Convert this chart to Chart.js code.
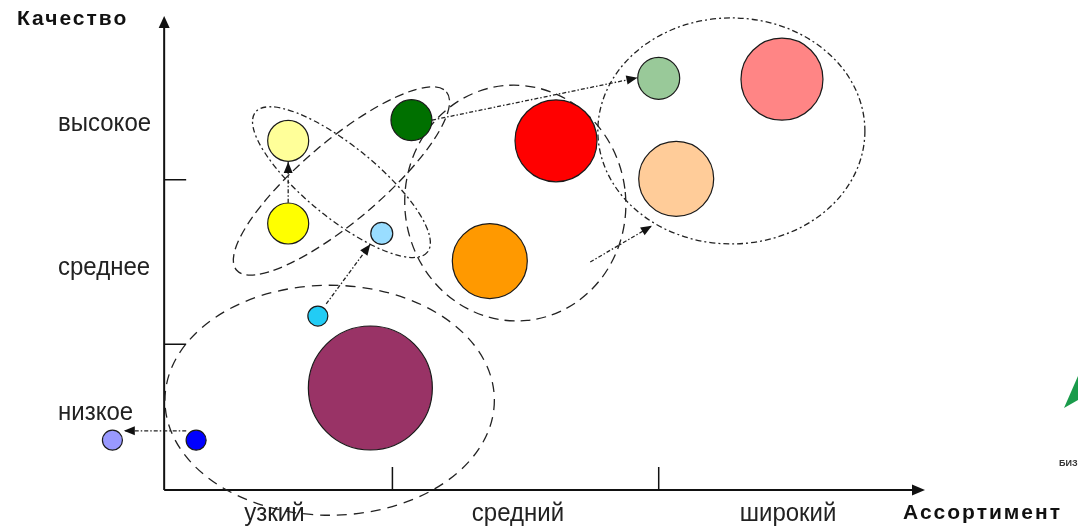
<!DOCTYPE html>
<html>
<head>
<meta charset="utf-8">
<script src="https://cdn.jsdelivr.net/npm/chart.js@4/dist/chart.umd.min.js"></script>
<style>
  html, body { margin: 0; background: #fff; }
  canvas { display: block; }
</style>
</head>
<body>
<canvas id="chart" width="1078" height="527"></canvas>
<script>
// axis categories
const assortmentLabels = ["узкий", "средний", "широкий"];
const assortmentLabelPos = [1.45, 4.65, 8.2];
const assortmentBounds = [3, 6.5];
const qualityLabels = ["низкое", "среднее", "высокое"];
const qualityLabelPos = [1.64, 4.72, 7.79];
const qualityBounds = [3.1, 6.6];

// bubbles (assortment, quality, radius)
const bubbleX = [1.63, 1.63, 3.25, 2.86, 2.02, 5.15, 4.28, 6.50, 8.12, 6.73, 2.71, 0.42, -0.68];
const bubbleY = [7.43, 5.67, 7.87, 5.46, 3.70, 7.43, 4.87, 8.76, 8.74, 6.62, 2.17, 1.06, 1.06];
const bubbleR = [20.5, 20.5, 20.5, 11, 10, 41, 37.5, 21, 41, 37.5, 62, 10, 10];
const bubbleColors = ["#FFFF99", "#FFFF00", "#007000", "#99DDFF", "#22CCF5", "#FF0000", "#FF9900",
  "#99C999", "#FF8585", "#FFCC99", "#993366", "#0000FF", "#9999FF"];

// dashed groups: ends of the long axis, in data units
const groupFrom = [[1.20, 8.04], [0.95, 4.68], [0.01, 1.91], [3.17, 5.87], [5.70, 7.64]];
const groupTo = [[3.46, 5.06], [3.71, 8.47], [4.34, 1.91], [6.06, 6.34], [9.21, 7.64]];

// movement arrows
const arrowFrom = [[0.29, 1.26], [2.13, 3.96], [1.63, 6.11], [3.52, 7.87], [5.60, 4.85]];
const arrowTo = [[-0.53, 1.26], [2.71, 5.23], [1.63, 6.98], [6.22, 8.77], [6.41, 5.62]];

const groupHalf = [36, 40, 115, 118, 113];
const groupDash = [[6, 3, 2, 3], [9, 5], [10, 7], [10, 6], [6, 3, 2, 3]];

const points = bubbleX.map((x, i) => ({ x: x, y: bubbleY[i], r: bubbleR[i] }));

function arrowHead(ctx, x1, y1, x2, y2, len, w) {
  const a = Math.atan2(y2 - y1, x2 - x1);
  ctx.save();
  ctx.translate(x2, y2);
  ctx.rotate(a);
  ctx.beginPath();
  ctx.moveTo(0, 0);
  ctx.lineTo(-len, -w / 2);
  ctx.lineTo(-len, w / 2);
  ctx.closePath();
  ctx.fill();
  ctx.restore();
}

// text a bit taller than the font draws it
function tallText(ctx, t, x, y, k) {
  ctx.save();
  ctx.translate(x, y);
  ctx.scale(1, k);
  ctx.fillText(t, 0, 0);
  ctx.restore();
}

const drawing = {
  id: "drawing",
  beforeDatasetsDraw(chart) {
    const ctx = chart.ctx;
    const xs = chart.scales.x, ys = chart.scales.y;
    const L = xs.getPixelForValue(0), B = ys.getPixelForValue(0);
    const R = xs.getPixelForValue(10), T = ys.getPixelForValue(10);
    ctx.save();
    ctx.strokeStyle = "#111";
    ctx.fillStyle = "#111";

    // axes
    ctx.lineWidth = 2;
    ctx.beginPath();
    ctx.moveTo(L, B); ctx.lineTo(L, T + 8);
    ctx.moveTo(L, B); ctx.lineTo(R - 12, B);
    ctx.stroke();
    arrowHead(ctx, L, B, L, T - 4, 12, 11);
    arrowHead(ctx, L, B, R, B, 13, 11);

    ctx.lineWidth = 1.5;
    ctx.beginPath();
    assortmentBounds.forEach(v => {
      const px = xs.getPixelForValue(v);
      ctx.moveTo(px, B); ctx.lineTo(px, B - 23);
    });
    qualityBounds.forEach(v => {
      const py = ys.getPixelForValue(v);
      ctx.moveTo(L, py); ctx.lineTo(L + 22, py);
    });
    ctx.stroke();

    // labels
    ctx.fillStyle = "#222";
    ctx.font = "24px 'Liberation Sans', Arial, sans-serif";
    ctx.textBaseline = "middle";
    ctx.textAlign = "left";
    qualityLabels.forEach((t, i) => tallText(ctx, t, 58, ys.getPixelForValue(qualityLabelPos[i]), 1.1));
    ctx.textAlign = "center";
    assortmentLabels.forEach((t, i) => tallText(ctx, t, xs.getPixelForValue(assortmentLabelPos[i]), 514, 1.1));

    ctx.fillStyle = "#111";
    ctx.font = "bold 21px 'Liberation Sans', Arial, sans-serif";
    ctx.textAlign = "left";
    ctx.letterSpacing = "2px";
    ctx.fillText("Качество", 17, 19);
    ctx.fillText("Ассортимент", 903, 513);
    ctx.letterSpacing = "0px";

    // groups
    ctx.lineWidth = 1.3;
    ctx.strokeStyle = "#222";
    groupFrom.forEach((f, i) => {
      const x1 = xs.getPixelForValue(f[0]), y1 = ys.getPixelForValue(f[1]);
      const x2 = xs.getPixelForValue(groupTo[i][0]), y2 = ys.getPixelForValue(groupTo[i][1]);
      const cx = (x1 + x2) / 2, cy = (y1 + y2) / 2;
      const a = Math.hypot(x2 - x1, y2 - y1) / 2;
      ctx.setLineDash(groupDash[i]);
      ctx.beginPath();
      ctx.ellipse(cx, cy, a, groupHalf[i], Math.atan2(y2 - y1, x2 - x1), 0, Math.PI * 2);
      ctx.stroke();
    });

    // arrows
    ctx.setLineDash([4, 2, 1.5, 2]);
    ctx.fillStyle = "#111";
    arrowFrom.forEach((f, i) => {
      const x1 = xs.getPixelForValue(f[0]), y1 = ys.getPixelForValue(f[1]);
      const x2 = xs.getPixelForValue(arrowTo[i][0]), y2 = ys.getPixelForValue(arrowTo[i][1]);
      ctx.beginPath();
      ctx.moveTo(x1, y1); ctx.lineTo(x2, y2);
      ctx.stroke();
      arrowHead(ctx, x1, y1, x2, y2, 11, 9);
    });
    ctx.setLineDash([]);

    // corner logo fragment
    ctx.fillStyle = "#1A9B4B";
    ctx.beginPath();
    ctx.moveTo(1064, 408); ctx.lineTo(1078, 376); ctx.lineTo(1078, 400);
    ctx.closePath();
    ctx.fill();
    ctx.fillStyle = "#333";
    ctx.font = "bold 9px 'Liberation Sans', Arial, sans-serif";
    ctx.fillText("БИЗ", 1059, 464);
    ctx.restore();
  }
};

new Chart(document.getElementById("chart"), {
  type: "bubble",
  data: {
    datasets: [{
      data: points,
      backgroundColor: bubbleColors,
      borderColor: "#1a1a1a",
      borderWidth: 1.2,
      clip: false
    }]
  },
  options: {
    responsive: false,
    animation: false,
    events: [],
    layout: { autoPadding: false, padding: { left: 12, right: 153, top: 20, bottom: 37 } },
    scales: {
      x: { type: "linear", min: -2, max: 10, display: false },
      y: { type: "linear", min: 0, max: 10, display: false }
    },
    plugins: { legend: { display: false }, tooltip: { enabled: false } }
  },
  plugins: [drawing]
});
</script>
</body>
</html>
